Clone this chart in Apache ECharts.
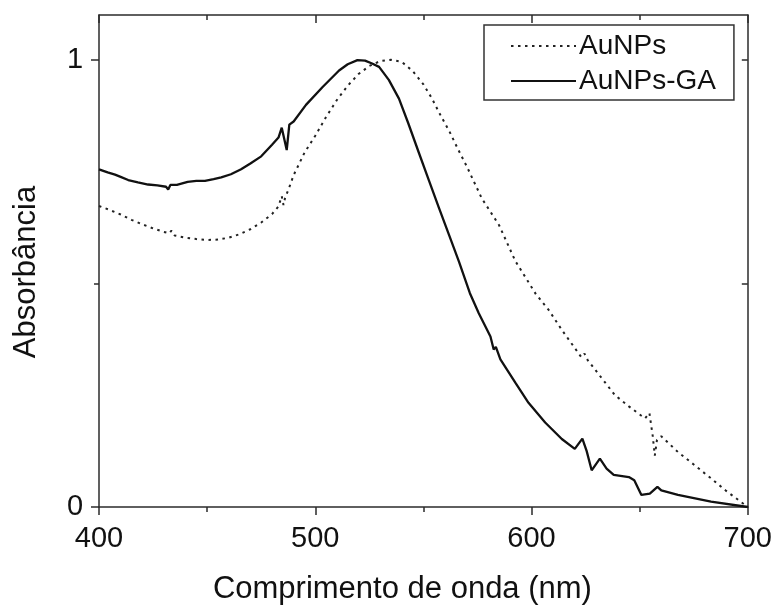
<!DOCTYPE html>
<html>
<head>
<meta charset="utf-8">
<script src="https://cdn.jsdelivr.net/npm/echarts@6/dist/echarts.min.js"></script>
<style>html,body{margin:0;padding:0;background:#fff}#c{width:775px;height:610px}</style>
</head>
<body>
<div id="c"></div>
<script>
// AuNPs (dotted)
const wlAuNPs = [400,405,410,415,420,425,430,432.5,433.5,435,440,445,450,455,460,465,470,475,480,483,484.5,485.3,486,488,490,495,500,505,510,515,520,525,530,535,540,545,550,554,558,562,566,570,577,585,592.5,602,608,614,623,624.5,626,638.6,645,650.8,652.5,654.5,656,657,658,660,667.7,675,683,690,700];
const absAuNPs = [0.673,0.664,0.654,0.642,0.632,0.623,0.615,0.612,0.618,0.607,0.602,0.599,0.597,0.598,0.602,0.610,0.621,0.636,0.655,0.672,0.695,0.675,0.69,0.715,0.742,0.792,0.830,0.872,0.910,0.942,0.968,0.986,0.997,1.000,0.995,0.975,0.945,0.913,0.875,0.840,0.800,0.762,0.690,0.630,0.550,0.476,0.440,0.396,0.335,0.343,0.328,0.250,0.225,0.204,0.198,0.210,0.160,0.115,0.150,0.158,0.123,0.095,0.064,0.036,0.000];
// AuNPs-GA (solid)
const wlAuNPsGA = [400,404,407.4,410,413.5,418,422.7,427,431,432,433,436,441,445,449,453,456.5,461,465.7,470,475,480,483,484.5,486.8,488,490,495.7,503.4,511,515,519.5,523,526,529.5,534,538.7,543,547.9,552.5,557.1,561.8,566.4,571.5,575.6,581,582.5,583.5,585.6,592.5,598.6,606.3,614,620,623.5,625.5,627.8,631.6,634.7,638,645,647.5,650.8,654.7,658.2,660,667.7,683,700];
const absAuNPsGA = [0.755,0.748,0.743,0.738,0.731,0.726,0.721,0.719,0.716,0.710,0.720,0.720,0.727,0.729,0.729,0.733,0.737,0.744,0.755,0.768,0.784,0.810,0.826,0.848,0.798,0.855,0.862,0.899,0.939,0.976,0.990,0.999,0.998,0.992,0.984,0.955,0.913,0.858,0.792,0.731,0.670,0.609,0.549,0.478,0.433,0.381,0.352,0.358,0.330,0.278,0.233,0.189,0.152,0.130,0.153,0.125,0.082,0.108,0.086,0.072,0.067,0.060,0.027,0.030,0.045,0.037,0.027,0.012,0.000];
// axis ticks
const xTicks = [400,500,600,700];
const yTickLabels = [0,1];

const pair = (xs, ys) => xs.map((x, i) => [x, ys[i]]);
const FONT = '"Liberation Sans", Arial, sans-serif';
const AX = '#2b2b2b';

const chart = echarts.init(document.getElementById('c'), null, {renderer: 'canvas'});
chart.setOption({
  animation: false,
  backgroundColor: '#fff',
  grid: {left: 99, right: 25, top: 15, bottom: 98, containLabel: false},
  legend: {
    orient: 'vertical', left: 484, top: 25,
    itemWidth: 65, itemHeight: 14, itemGap: 7,
    padding: [7, 18, 5, 26],
    borderColor: '#333', borderWidth: 1.5,
    itemStyle: {opacity: 0},
    textStyle: {fontFamily: FONT, fontSize: 28, color: '#111', padding: [0,0,0,-2]},
    data: ['AuNPs', 'AuNPs-GA']
  },
  xAxis: [{
    type: 'value', min: 400, max: 700, interval: 100, position: 'bottom',
    name: 'Comprimento de onda (nm)', nameLocation: 'middle', nameGap: 67,
    nameTextStyle: {fontFamily: FONT, fontSize: 31, color: '#111', padding: [0, 42, 0, 0]},
    axisLine: {lineStyle: {color: AX, width: 1.5}},
    axisTick: {inside: false, length: 8, lineStyle: {color: AX, width: 1.5}},
    minorTick: {show: true, splitNumber: 2, length: 5, lineStyle: {color: AX, width: 1.5}},
    axisLabel: {fontFamily: FONT, fontSize: 29, color: '#111', margin: 17,
      formatter: v => xTicks.indexOf(v) >= 0 ? String(v) : ''},
    splitLine: {show: false}
  }, {
    type: 'value', min: 400, max: 700, interval: 100, position: 'top',
    axisLine: {onZero: false, lineStyle: {color: AX, width: 1.5}},
    axisTick: {inside: true, length: 8, lineStyle: {color: AX, width: 1.5}},
    minorTick: {show: true, splitNumber: 2, length: 5, lineStyle: {color: AX, width: 1.5}},
    axisLabel: {show: false}, splitLine: {show: false}
  }],
  yAxis: [{
    type: 'value', min: 0, max: 1.1, interval: 1, position: 'left',
    name: 'Absorbância', nameLocation: 'middle', nameGap: 57,
    nameTextStyle: {fontFamily: FONT, fontSize: 31, color: '#111', padding: [0, 22, 0, 0]},
    axisLine: {show: true, lineStyle: {color: AX, width: 1.5}},
    axisTick: {show: true, length: 8, customValues: [0, 1], lineStyle: {color: AX, width: 1.5}},
    axisLabel: {fontFamily: FONT, fontSize: 29, color: '#111', margin: 24, align: 'center',
      customValues: yTickLabels, formatter: v => String(v)},
    splitLine: {show: false}
  }, {
    type: 'value', min: 0, max: 1.1, interval: 0.5, position: 'left',
    axisLine: {show: false},
    axisTick: {show: true, length: 5, customValues: [0.5], lineStyle: {color: AX, width: 1.5}},
    axisLabel: {show: false}, splitLine: {show: false}
  }, {
    type: 'value', min: 0, max: 1.1, interval: 0.5, position: 'right',
    axisLine: {show: true, onZero: false, lineStyle: {color: AX, width: 1.5}},
    axisTick: {show: true, inside: true, length: 6, customValues: [0.5, 1], lineStyle: {color: AX, width: 1.5}},
    axisLabel: {show: false}, splitLine: {show: false}
  }],
  series: [{
    name: 'AuNPs', type: 'line', symbol: 'none', xAxisIndex: 0, yAxisIndex: 0,
    data: pair(wlAuNPs, absAuNPs),
    lineStyle: {color: '#222', width: 2, type: [2.5, 4.5]},
    itemStyle: {color: '#222'}, z: 3
  }, {
    name: 'AuNPs-GA', type: 'line', symbol: 'none', xAxisIndex: 0, yAxisIndex: 0,
    data: pair(wlAuNPsGA, absAuNPsGA),
    lineStyle: {color: '#111', width: 2.3, type: 'solid'},
    itemStyle: {color: '#111'}, z: 4
  }]
});
</script>
</body>
</html>
